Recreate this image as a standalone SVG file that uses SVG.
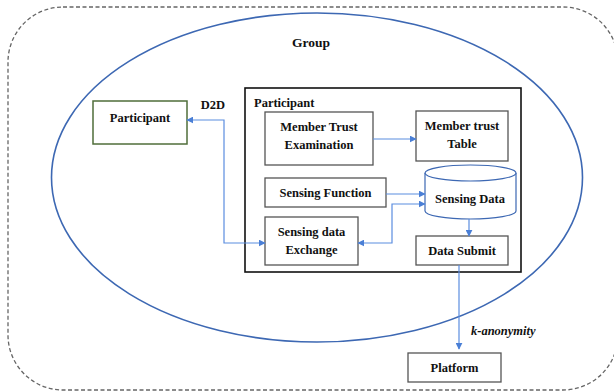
<svg xmlns="http://www.w3.org/2000/svg" width="614" height="392" viewBox="0 0 614 392">
<defs>
<style>
text{font-family:"Liberation Serif","Times New Roman",serif;font-weight:bold;font-size:12.5px;fill:#111;text-anchor:middle;}
.box{fill:#fff;stroke:#555;stroke-width:1.3;}
.con{fill:none;stroke:#5b8ddf;stroke-width:1.2;}
</style>
<marker id="ah" viewBox="0 0 10 10" refX="9" refY="5" markerWidth="7" markerHeight="7" orient="auto-start-reverse" markerUnits="userSpaceOnUse">
<path d="M0,0 L10,5 L0,10 z" fill="#4a7fd6"/>
</marker>
</defs>
<rect width="614" height="392" fill="#fff"/>
<g id="outer">
<rect x="8" y="7" width="610" height="383" rx="55" ry="55" fill="none" stroke="#666" stroke-width="1.3" stroke-dasharray="4,2.5"/>
</g>
<g id="group">
<ellipse cx="317" cy="177.5" rx="265.5" ry="164.5" fill="none" stroke="#3d68b3" stroke-width="1.6"/>
<text x="311" y="47" style="font-size:13.5px">Group</text>
</g>
<g id="participant-ext">
<rect x="93" y="101" width="94" height="43" fill="#fff" stroke="#4f6e3a" stroke-width="1.5"/>
<text x="140" y="122">Participant</text>
</g>
<g id="participant">
<rect x="245" y="88" width="276" height="184" fill="none" stroke="#111" stroke-width="1.6"/>
<text x="254" y="107" style="text-anchor:start">Participant</text>
</g>
<g id="member-trust-exam">
<rect class="box" x="265" y="112" width="108" height="53"/>
<text x="319" y="131">Member Trust</text>
<text x="319" y="149">Examination</text>
</g>
<g id="member-trust-table">
<rect class="box" x="416" y="111" width="92" height="50"/>
<text x="462" y="130">Member trust</text>
<text x="462" y="148">Table</text>
</g>
<g id="sensing-function">
<rect class="box" x="265" y="178" width="121" height="29"/>
<text x="325.5" y="197">Sensing Function</text>
</g>
<g id="sensing-data">
<path d="M425,173 L425,211 A45.5,8 0 0 0 516,211 L516,173" fill="#fff" stroke="#3d68b3" stroke-width="1.2"/>
<ellipse cx="470.5" cy="173" rx="45.5" ry="8" fill="#fff" stroke="#3d68b3" stroke-width="1.2"/>
<text x="470" y="203">Sensing Data</text>
</g>
<g id="sensing-exchange">
<rect class="box" x="265" y="217" width="93" height="48"/>
<text x="311.5" y="236">Sensing data</text>
<text x="311.5" y="254">Exchange</text>
</g>
<g id="data-submit">
<rect class="box" x="416" y="236" width="92" height="29"/>
<text x="462" y="255">Data Submit</text>
</g>
<g id="platform">
<rect class="box" x="408" y="353" width="93" height="29"/>
<text x="454.5" y="372">Platform</text>
</g>
<g id="connectors">
<polyline class="con" points="265,243 224,243 224,120 187,120" marker-start="url(#ah)" marker-end="url(#ah)"/>
<line class="con" x1="373" y1="139" x2="416" y2="139" marker-end="url(#ah)"/>
<line class="con" x1="386" y1="194" x2="425" y2="194" marker-end="url(#ah)"/>
<polyline class="con" points="358,243 392,243 392,204 425,204" marker-start="url(#ah)" marker-end="url(#ah)"/>
<line class="con" x1="469" y1="219" x2="469" y2="236" marker-end="url(#ah)"/>
<line class="con" x1="459" y1="265" x2="459" y2="349" marker-end="url(#ah)"/>
<text x="213" y="109">D2D</text>
<text x="471" y="335" style="text-anchor:start;font-style:italic">k-anonymity</text>
</g>
</svg>
